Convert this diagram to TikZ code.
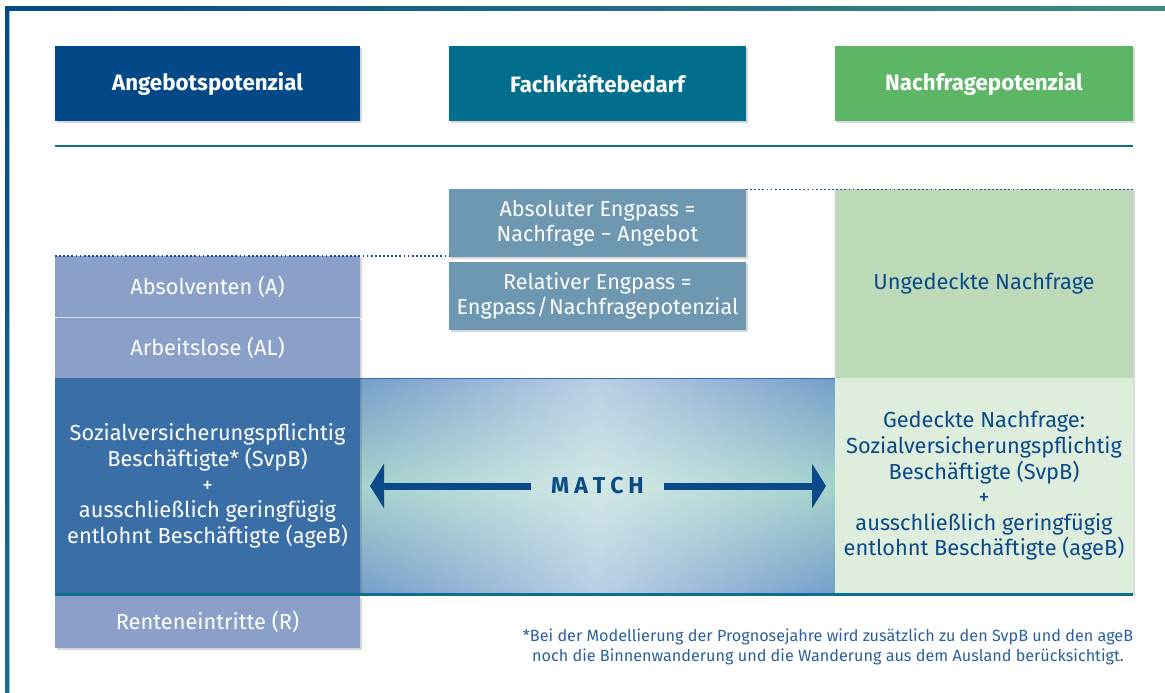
\documentclass[tikz,border=0pt]{standalone}
\usepackage{fontspec}
\setmainfont{Fira Sans}
\usetikzlibrary{arrows.meta,shadows,fadings}
\definecolor{cAng}{HTML}{034987}
\definecolor{cFach}{HTML}{006E8C}
\definecolor{cNach}{HTML}{5DB566}
\definecolor{cLight}{HTML}{8AA0C8}
\definecolor{cSvpB}{HTML}{3A6EA6}
\definecolor{cEng}{HTML}{6E97B1}
\definecolor{cUng}{HTML}{BDDAB8}
\definecolor{cGed}{HTML}{DFEDDC}
\definecolor{cTeal}{HTML}{0D6F8E}
\definecolor{cText}{HTML}{0B4A8A}
\definecolor{cFoot}{HTML}{2A5F9E}
\definecolor{cDot}{HTML}{1A4F95}
\definecolor{cFrameR}{HTML}{3A8E86}
\definecolor{cFrameB}{HTML}{17708E}
\definecolor{cMatchEdge}{HTML}{759DCB}
\definecolor{cMatchMid}{HTML}{A6D3CC}
\definecolor{cMatchTop}{HTML}{2F70B0}
\definecolor{cInner}{HTML}{9CC0E0}
\tikzfading[name=hband, left color=transparent!100, right color=transparent!100, middle color=transparent!50]
\tikzset{
  boxbase/.style={rectangle, inner sep=0pt, outer sep=0pt, align=center},
  shad/.style={drop shadow={shadow xshift=2pt, shadow yshift=-2pt, opacity=.22, fill=black!70}},
  hdr/.style={boxbase, shad, text=white, minimum height=75pt,
    font=\fontsize{22.3pt}{26pt}\selectfont\bfseries},
  bodyw/.style={boxbase, text=white, font=\fontsize{21.8pt}{25.6pt}\selectfont},
  bodyb/.style={boxbase, text=cText, font=\fontsize{21.8pt}{25.6pt}\selectfont},
  engbox/.style={boxbase, shad, fill=cEng, text=white, minimum width=297pt, minimum height=68pt,
    font=\fontsize{21.6pt}{24.5pt}\selectfont},
  dotline/.style={cDot, line width=1.8pt, dash pattern=on 1.8pt off 2.3pt},
  tealline/.style={cTeal, line width=2.2pt},
  matcharr/.style={cText, line width=7pt, -{Triangle[length=14pt,width=44pt]}}
}
\begin{document}
\begin{tikzpicture}[x=1pt,y=-1pt]
\useasboundingbox (0,0) rectangle (1165,693);
% frame
\shade[left color=cAng, right color=cFrameR] (5,7) rectangle (1165,11);
\shade[top color=cAng, bottom color=cFrameB] (5,7) rectangle (9,693);
\draw[cInner, line width=0.8pt] (9.6,11) -- (9.6,693);

% headers
\node[hdr, fill=cAng, minimum width=305pt] (ang) at (207.5,83.5) {Angebotspotenzial};
\node[hdr, fill=cFach, minimum width=297pt] (fach) at (597.5,83.5) {Fachkräftebedarf};
\node[hdr, fill=cNach, minimum width=298pt] (nach) at (984,83.5) {Nachfragepotenzial};

% separator line
\coordinate (sepL) at (55,146);
\coordinate (sepR) at (1133,146);
\draw[tealline] (sepL) -- (sepR);

% match area
\coordinate (mNW) at (360,378);
\coordinate (mSE) at (835,594);
\shade[top color=cMatchEdge, bottom color=cMatchEdge, middle color=cMatchMid] (mNW) rectangle (mSE);
\fill[white, path fading=hband] (mNW) rectangle (mSE);
\draw[cMatchTop, line width=1pt] (360,378.5) -- (835,378.5);

% left column
\node[bodyw, shad, fill=cLight, minimum width=305pt, minimum height=61pt] (abs) at (207.5,286.5) {Absolventen (A)};
\node[bodyw, shad, fill=cLight, minimum width=305pt, minimum height=60pt] (al) at (207.5,348) {Arbeitslose (AL)};
\node[bodyw, shad, fill=cLight, minimum width=305pt, minimum height=52pt] (rent) at (207.5,622) {Renteneintritte (R)};
\node[bodyw, shad, fill=cSvpB, minimum width=305pt, minimum height=216pt] (svpb) at (207.5,486)
  {Sozialversicherungspflichtig\\Beschäftigte* (SvpB)\\+\\ausschließlich geringfügig\\entlohnt Beschäftigte (ageB)};

% engpass boxes
\node[engbox] (absE) at (597.5,223) {Absoluter Engpass =\\Nachfrage − Angebot};
\node[engbox] (relE) at (597.5,296) {Relativer Engpass =\\Engpass\kern1pt/\kern1ptNachfragepotenzial};

% right column
\node[bodyb, shad, fill=cUng, minimum width=298pt, minimum height=189pt] (ung) at (984,283.5) {Ungedeckte Nachfrage};
\node[bodyb, shad, fill=cGed, minimum width=298pt, minimum height=216pt] (ged) at (984,486)
  {Gedeckte Nachfrage:\\Sozialversicherungspflichtig\\Beschäftigte (SvpB)\\+\\ausschließlich geringfügig\\entlohnt Beschäftigte (ageB)};

% bottom teal line
\coordinate (botL) at (55,594.5);
\coordinate (botR) at (1133,594.5);
\draw[tealline] (botL) -- (botR);

% dotted lines
\coordinate (dotL) at (55,256);
\coordinate (dotR) at (1133,189.5);
\draw[dotline] (dotL) -- (absE.south west |- dotL);
\draw[dotline] (absE.north east |- dotR) -- (dotR);

% MATCH
\node[boxbase, text=cText, minimum width=133pt, minimum height=30pt,
  font=\fontsize{23pt}{26pt}\selectfont\bfseries] (match) at (597.5,486)
  {M\hspace{5pt}A\hspace{5pt}T\hspace{5pt}C\hspace{5pt}H};
\coordinate (lt) at (370,486);
\coordinate (rt) at (826,486);
\draw[matcharr] (match.west) -- (lt);
\draw[matcharr] (match.east) -- (rt);

% footnote
\node[boxbase, text=cFoot, font=\fontsize{16.2pt}{20.5pt}\selectfont] (foot) at (828,647)
  {*Bei der Modellierung der Prognosejahre wird zusätzlich zu den SvpB und den ageB\\noch die Binnenwanderung und die Wanderung aus dem Ausland berücksichtigt.};
\end{tikzpicture}
\end{document}
